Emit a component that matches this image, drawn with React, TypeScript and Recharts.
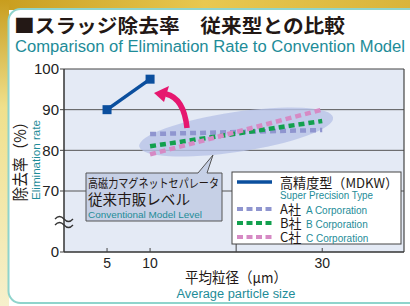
import React from 'react';
import { LineChart, Line, XAxis, YAxis, CartesianGrid, ReferenceLine, ReferenceDot } from 'recharts';

// particle size (µm) vs elimination rate (%)
const mdkwSizes = [5, 10];
const mdkwRates = [90, 97.5];
const rivalSizes = [10, 30];
const corpARates = [84, 85];
const corpBRates = [81, 87.2];
const corpCRates = [79, 90];

const xTicks = [5, 10, 20, 30];
const xTickLabels = ['5', '10', '', '30'];
// axis is broken below 70: the bottom tick (55 on the scale) reads "0"
const yTicks = [55, 70, 80, 90, 100];
const yTickLabels = ['0', '70', '80', '90', '100'];

const BLUE = '#0b4f9e';
const LAV = '#8f95cf';
const GREEN = '#12a04e';
const PINK = '#d68ac4';
const TEAL = '#1e8c98';
const JP = '"Noto Sans CJK JP", "Noto Sans", sans-serif';
const EN = '"Liberation Sans", Arial, sans-serif';

const toPoints = (xs: number[], ys: number[]) => xs.map((x, i) => ({ x, y: ys[i] }));

const XTick = (props: any) => {
  const { x, y, payload } = props;
  const i = xTicks.indexOf(payload.value);
  const len = payload.value === 20 ? 8 : 4;
  return (
    <g>
      <line x1={x} x2={x} y1={y} y2={y - len} stroke="#444" strokeWidth={1} />
      <text x={x} y={y + 16} textAnchor="middle" fontSize={14} fontFamily={EN} fill="#222">
        {xTickLabels[i]}
      </text>
    </g>
  );
};

const Square = (p: any) => (
  <rect key={p.index} x={p.cx - 4.5} y={p.cy - 4.5} width={9} height={9} fill={BLUE} />
);

const Halo = (p: any) => (
  <ellipse
    cx={p.cx}
    cy={p.cy}
    rx={98}
    ry={20}
    transform={`rotate(-8.5 ${p.cx} ${p.cy})`}
    fill="#b8c3e7"
    fillOpacity={0.8}
  />
);

const legendRows = [
  { c: LAV, y: 209, jp: 'A社', en: 'A Corporation' },
  { c: GREEN, y: 223, jp: 'B社', en: 'B Corporation' },
  { c: PINK, y: 237, jp: 'C社', en: 'C Corporation' },
];

export default function App() {
  return (
    <div style={{ position: 'absolute', left: 0, top: 0, width: 410, height: 306, overflow: 'hidden', background: '#fff' }}>
      {/* frame */}
      <svg width={410} height={306} style={{ position: 'absolute', left: 0, top: 0 }}>
        <defs>
          <linearGradient id="goldTop" x1="0" y1="0" x2="1" y2="0">
            <stop offset="0%" stopColor="#c89d1e" />
            <stop offset="50%" stopColor="#e8c850" />
            <stop offset="100%" stopColor="#d9b43a" />
          </linearGradient>
          <linearGradient id="goldLeft" x1="0" y1="0" x2="0" y2="1">
            <stop offset="0%" stopColor="#c89d1e" />
            <stop offset="35%" stopColor="#efe08c" />
            <stop offset="100%" stopColor="#f6f0cc" />
          </linearGradient>
        </defs>
        <rect x={0} y={0} width={410} height={10} fill="url(#goldTop)" />
        <rect x={0} y={0} width={9} height={306} fill="url(#goldLeft)" />
        <rect x={8.5} y={9} width={420} height={294} rx={12} fill="#fff" stroke="#8fd4cc" strokeWidth={2} />
      </svg>

      <div style={{ position: 'absolute', left: 0, top: 0 }}>
        <LineChart width={410} height={306} margin={{ top: 69, right: 6, bottom: 0, left: 0 }}>
          <CartesianGrid
            vertical={false}
            horizontalValues={[70, 80, 90]}
            fill="#e4eaf5"
            stroke="#555"
            strokeWidth={1}
          />
          <XAxis
            type="number"
            dataKey="x"
            domain={[0, 39.5]}
            ticks={xTicks}
            height={54}
            tickSize={0}
            tickMargin={0}
            tickLine={false}
            tick={XTick}
            axisLine={{ stroke: '#333', strokeWidth: 1.5 }}
            allowDataOverflow
          />
          <YAxis
            type="number"
            domain={[55, 100]}
            ticks={yTicks}
            width={64}
            tickSize={4}
            tickMargin={1}
            tickFormatter={(v: number) => yTickLabels[yTicks.indexOf(v)]}
            tick={{ fontSize: 15, fontFamily: EN, fill: '#222' }}
            tickLine={{ stroke: '#444' }}
            axisLine={{ stroke: '#333', strokeWidth: 1.5 }}
            allowDataOverflow
          />
          <ReferenceLine y={100} stroke="#444" strokeWidth={1.2} />
          <ReferenceLine x={39.5} stroke="#444" strokeWidth={1.2} />
          <ReferenceDot x={20} y={84.5} r={1} shape={Halo} zIndex={50} />
          <Line
            data={toPoints(rivalSizes, corpARates)}
            dataKey="y"
            stroke={LAV}
            strokeWidth={4.5}
            strokeDasharray="6 4"
            dot={false}
            isAnimationActive={false}
          />
          <Line
            data={toPoints(rivalSizes, corpBRates)}
            dataKey="y"
            stroke={GREEN}
            strokeWidth={4.5}
            strokeDasharray="6 4"
            dot={false}
            isAnimationActive={false}
          />
          <Line
            data={toPoints(rivalSizes, corpCRates)}
            dataKey="y"
            stroke={PINK}
            strokeWidth={4.5}
            strokeDasharray="6 4"
            dot={false}
            isAnimationActive={false}
          />
          <Line
            data={toPoints(mdkwSizes, mdkwRates)}
            dataKey="y"
            stroke={BLUE}
            strokeWidth={3.5}
            dot={Square}
            isAnimationActive={false}
          />
        </LineChart>
      </div>

      {/* titles, notes, legend */}
      <svg width={410} height={306} style={{ position: 'absolute', left: 0, top: 0, pointerEvents: 'none' }}>
        <text x={14} y={33} fontSize={19} fontWeight={700} fontFamily={JP} fill="#231815" textLength={331} lengthAdjust="spacingAndGlyphs">
          ■スラッジ除去率　従来型との比較
        </text>
        <text x={15} y={52} fontSize={16} fontFamily={EN} fill={TEAL} textLength={390} lengthAdjust="spacingAndGlyphs">
          Comparison of Elimination Rate to Convention Model
        </text>

        <text x={26} y={158} transform="rotate(-90 26 158)" textAnchor="middle" fontSize={16} fontFamily={JP} fill="#231815" textLength={87} lengthAdjust="spacingAndGlyphs">
          除去率（%）
        </text>
        <text x={39.5} y={160} transform="rotate(-90 39.5 160)" textAnchor="middle" fontSize={11.5} fontFamily={EN} fill={TEAL} textLength={80} lengthAdjust="spacingAndGlyphs">
          Elimination rate
        </text>

        <text x={236} y={283} textAnchor="middle" fontSize={14.5} fontFamily={JP} fill="#231815" textLength={102} lengthAdjust="spacingAndGlyphs">
          平均粒径（μm）
        </text>
        <text x={236} y={298} textAnchor="middle" fontSize={12.5} fontFamily={EN} fill={TEAL} textLength={119} lengthAdjust="spacingAndGlyphs">
          Average particle size
        </text>

        {/* axis break */}
        <path d="M55,219 q4.5,-5 9,0 t9,0" stroke="#333" strokeWidth={1.3} fill="none" />
        <path d="M55,225 q4.5,-5 9,0 t9,0" stroke="#333" strokeWidth={1.3} fill="none" />

        {/* arrow */}
        <path d="M187,128 C185,109 179,97 166,94" stroke="#e6176f" strokeWidth={5.5} fill="none" />
        <polygon points="154,93 169,86 164,102" fill="#e6176f" />

        {/* callout */}
        <path d="M86,173 L198,173 L213,155 L207,173 L222,173 L222,221 L86,221 Z" fill="#c6d0e6" stroke="#555" strokeWidth={1} />
        <text x={88} y={188} fontSize={12} fontFamily={JP} fill="#231815" textLength={131} lengthAdjust="spacingAndGlyphs">
          高磁力マグネットセパレータ
        </text>
        <text x={88} y={205} fontSize={14.5} fontFamily={JP} fill="#231815" textLength={102} lengthAdjust="spacingAndGlyphs">
          従来市販レベル
        </text>
        <text x={88} y={217.5} fontSize={9.5} fontFamily={EN} fill={TEAL} textLength={114} lengthAdjust="spacingAndGlyphs">
          Conventional Model Level
        </text>

        {/* legend */}
        <rect x={232} y={172} width={169} height={72} fill="#fff" stroke="#444" strokeWidth={1} />
        <line x1={237} x2={272} y1={182} y2={182} stroke={BLUE} strokeWidth={3.5} />
        <text x={280} y={188} fontSize={13.5} fontFamily={JP} fill="#231815" textLength={118} lengthAdjust="spacingAndGlyphs">
          高精度型（MDKW）
        </text>
        <text x={280} y={199} fontSize={10} fontFamily={EN} fill={TEAL} textLength={93} lengthAdjust="spacingAndGlyphs">
          Super Precision Type
        </text>
        {legendRows.map((r) => (
          <g key={r.jp}>
            <line x1={237} x2={272} y1={r.y} y2={r.y} stroke={r.c} strokeWidth={4} strokeDasharray="6 3.5" />
            <text x={280} y={r.y + 5} fontSize={13} fontFamily={JP} fill="#231815">{r.jp}</text>
            <text x={306} y={r.y + 5} fontSize={10} fontFamily={EN} fill={TEAL}>{r.en}</text>
          </g>
        ))}
      </svg>
    </div>
  );
}
